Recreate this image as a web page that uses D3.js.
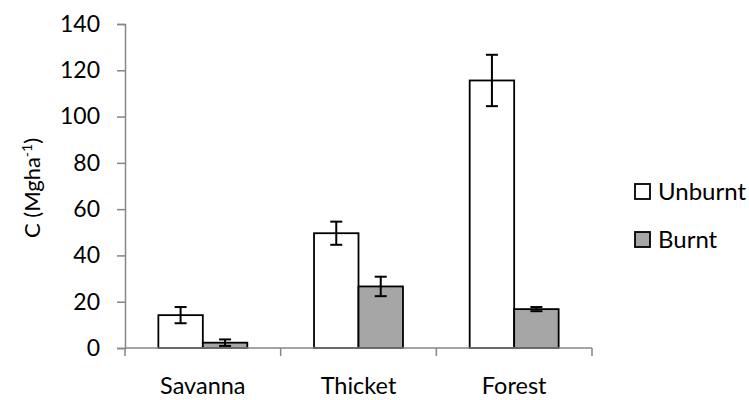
<!DOCTYPE html>
<html>
<head>
<meta charset="utf-8">
<script src="https://cdn.jsdelivr.net/npm/d3@7"></script>
<style>
  html, body { margin: 0; padding: 0; background: #fff; }
  svg text { font-family: Lato, "Open Sans", sans-serif; fill: #000; }
</style>
</head>
<body>
<svg id="chart" width="749" height="400"></svg>
<script>
const categories = ["Savanna", "Thicket", "Forest"];
const seriesNames = ["Unburnt", "Burnt"];
const unburnt = [14.2, 49.6, 115.6];
const unburntErr = [3.5, 5.0, 11.1];
const burnt = [2.3, 26.6, 16.8];
const burntErr = [1.4, 4.2, 0.9];
const yTicks = [0, 20, 40, 60, 80, 100, 120, 140];
const seriesFill = { "Unburnt": "#ffffff", "Burnt": "#a6a6a6" };

const svg = d3.select("#chart");
const plotLeft = 125, plotRight = 592, plotTop = 24, plotBottom = 348;
const axisColor = "#868686";

const y = d3.scaleLinear().domain([0, 140]).range([plotBottom, plotTop]);
const x0 = d3.scaleBand().domain(categories).range([plotLeft, plotRight]).padding(0);
const x1 = d3.scaleBand().domain(seriesNames).range([0, x0.bandwidth()])
  .paddingInner(0).paddingOuter(0.75);

const rows = categories.map((c, i) => ({
  cat: c,
  vals: [
    { s: "Unburnt", v: unburnt[i], e: unburntErr[i] },
    { s: "Burnt", v: burnt[i], e: burntErr[i] }
  ]
}));

// Y axis
const yAxis = d3.axisLeft(y).tickValues(yTicks).tickSize(8).tickPadding(17);
const gy = svg.append("g").attr("transform", `translate(${plotLeft},0)`).call(yAxis);
gy.select(".domain").attr("stroke", axisColor).attr("stroke-width", 1.5);
gy.selectAll(".tick line").attr("stroke", axisColor).attr("stroke-width", 1.5);
gy.selectAll(".tick text").style("font-size", "23px").style("font-family", "Lato").attr("fill", "#000");

// Bars
const groups = svg.append("g").selectAll("g").data(rows).join("g")
  .attr("transform", d => `translate(${x0(d.cat)},0)`);

groups.selectAll("rect").data(d => d.vals).join("rect")
  .attr("x", d => x1(d.s))
  .attr("y", d => y(d.v))
  .attr("width", x1.bandwidth())
  .attr("height", d => y(0) - y(d.v))
  .attr("fill", d => seriesFill[d.s])
  .attr("stroke", "#000")
  .attr("stroke-width", 1.8);

// Error bars
const eb = groups.selectAll("g.err").data(d => d.vals).join("g").attr("class", "err");
eb.append("line")
  .attr("x1", d => x1(d.s) + x1.bandwidth() / 2)
  .attr("x2", d => x1(d.s) + x1.bandwidth() / 2)
  .attr("y1", d => y(d.v + d.e))
  .attr("y2", d => y(d.v - d.e))
  .attr("stroke", "#000").attr("stroke-width", 2);
[1, -1].forEach(sign => {
  eb.append("line")
    .attr("x1", d => x1(d.s) + x1.bandwidth() / 2 - 6)
    .attr("x2", d => x1(d.s) + x1.bandwidth() / 2 + 6)
    .attr("y1", d => y(d.v + sign * d.e))
    .attr("y2", d => y(d.v + sign * d.e))
    .attr("stroke", "#000").attr("stroke-width", 2);
});

// X axis
const gx = svg.append("g").attr("transform", `translate(0,${plotBottom})`);
gx.append("line").attr("x1", plotLeft).attr("x2", plotRight).attr("y1", 0).attr("y2", 0)
  .attr("stroke", axisColor).attr("stroke-width", 1.5);
const bounds = categories.map(c => x0(c)).concat([plotRight]);
gx.selectAll("line.tk").data(bounds).join("line").attr("class", "tk")
  .attr("x1", d => d).attr("x2", d => d).attr("y1", 0).attr("y2", 8)
  .attr("stroke", axisColor).attr("stroke-width", 1.5);
gx.selectAll("text").data(categories).join("text")
  .attr("x", d => x0(d) + x0.bandwidth() / 2)
  .attr("y", 46)
  .attr("text-anchor", "middle")
  .style("font-size", "23.5px")
  .text(d => d);

// Y title
const yt = svg.append("text")
  .attr("transform", `translate(40,${(plotTop + plotBottom) / 2 + 2}) rotate(-90)`)
  .attr("text-anchor", "middle")
  .style("font-size", "22px");
yt.append("tspan").text("C (Mgha");
yt.append("tspan").attr("baseline-shift", "super").style("font-size", "14px").text("-1");
yt.append("tspan").text(")");

// Legend
const lg = svg.append("g").selectAll("g").data(seriesNames).join("g")
  .attr("transform", (d, i) => `translate(635,${184 + i * 48})`);
lg.append("rect").attr("width", 15).attr("height", 15)
  .attr("fill", d => seriesFill[d]).attr("stroke", "#000").attr("stroke-width", 1.8);
lg.append("text").attr("x", 23).attr("y", 7.5).attr("dy", "0.36em")
  .style("font-size", "24px").text(d => d);
</script>
</body>
</html>
